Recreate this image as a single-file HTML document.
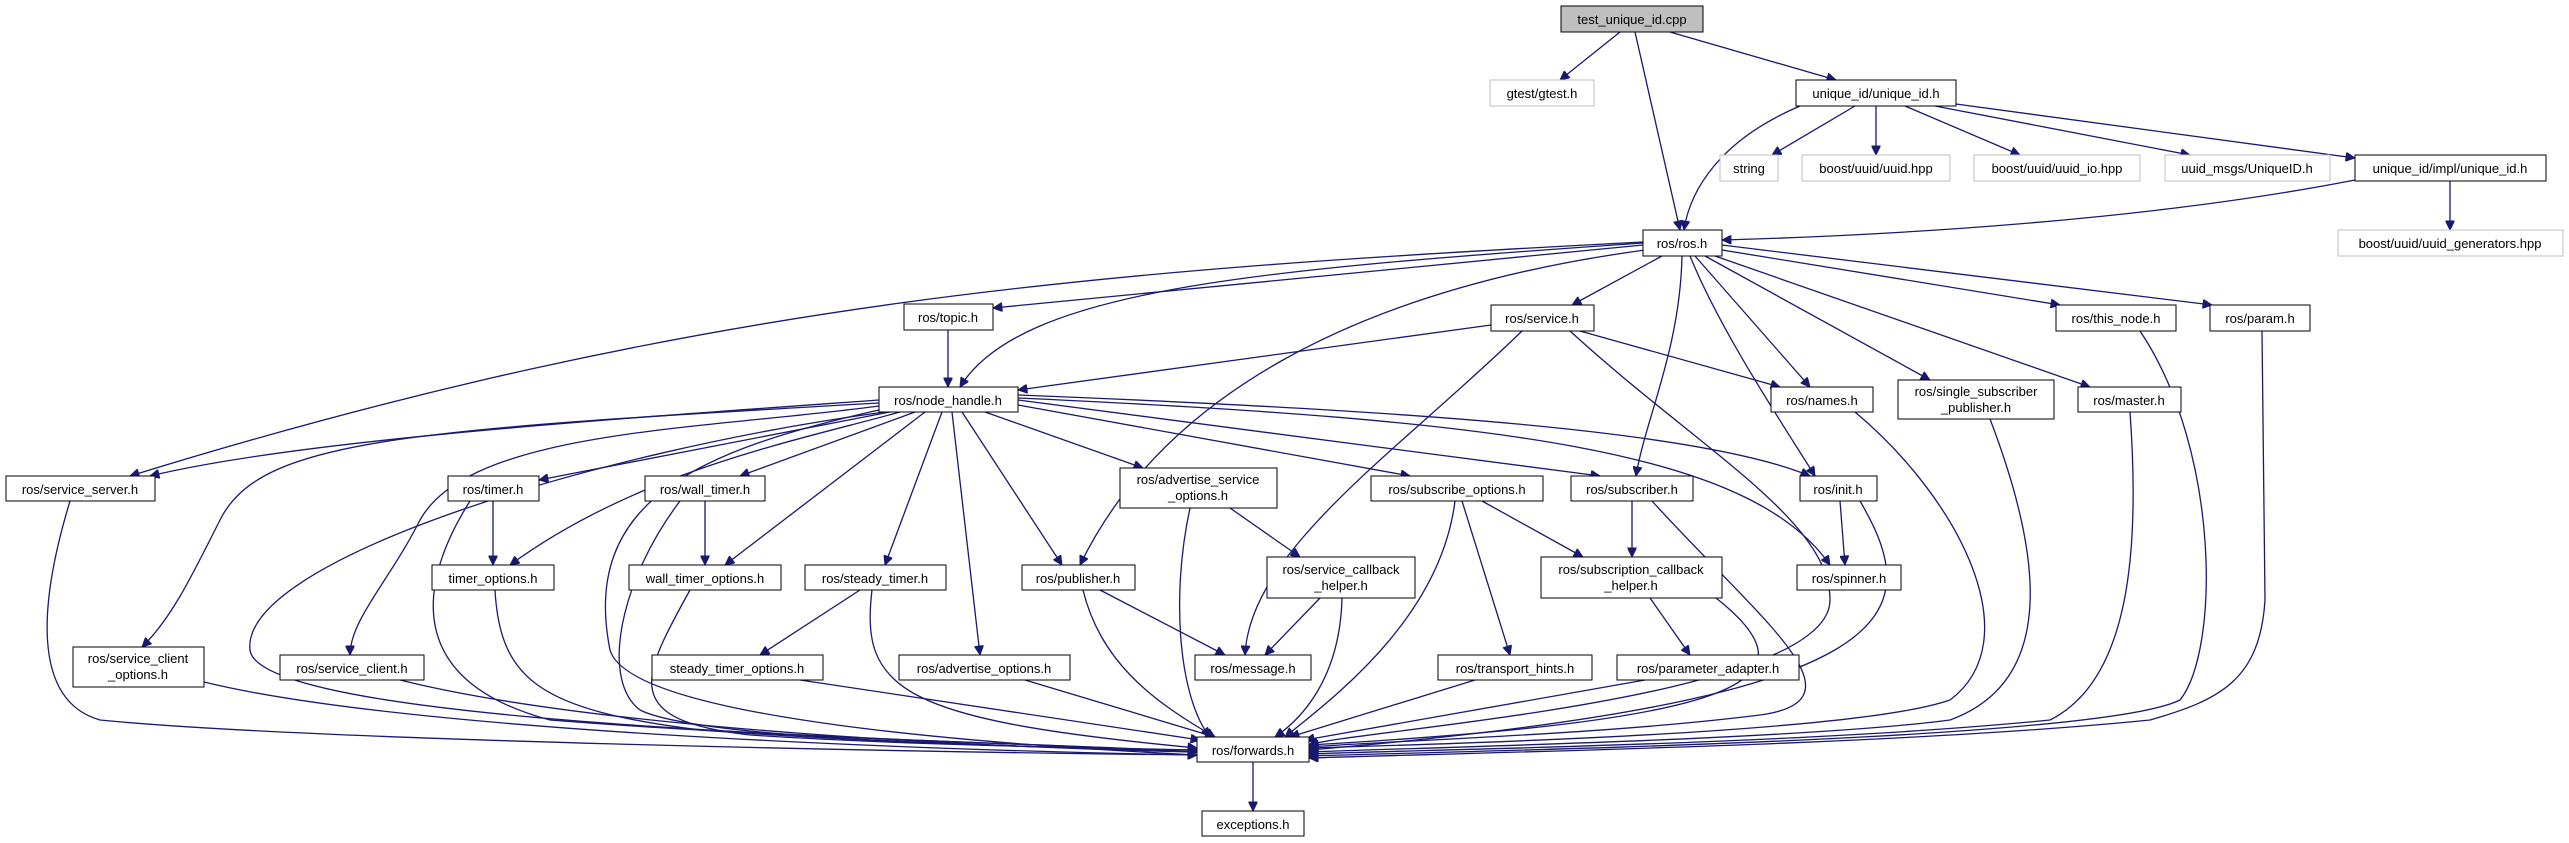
<!DOCTYPE html>
<html><head><meta charset="utf-8"><style>
html,body{margin:0;padding:0;background:#fff;}
svg{display:block;}
text{font-family:"Liberation Sans",sans-serif;font-size:13px;fill:#000;}
.e{fill:none;stroke:#191970;stroke-width:1.3;}
.n{fill:#fff;stroke:#000;stroke-width:1;}
.g{fill:#fff;stroke:#bfbfbf;stroke-width:1;}
</style></head><body>
<svg width="2569" height="843" viewBox="0 0 2569 843" xmlns="http://www.w3.org/2000/svg">
<defs><marker id="a" viewBox="0 0 10 10" refX="10" refY="5" markerWidth="11" markerHeight="9" markerUnits="userSpaceOnUse" orient="auto"><path d="M0,0 L10,5 L0,10 z" fill="#191970" stroke="#191970"/></marker></defs>
<g class="e" marker-end="url(#a)">
<path d="M1620 32 L1560 80"/>
<path d="M1670 32 L1836 80"/>
<path d="M1635 32 L1680 230"/>
<path d="M1800 106 C1720 140 1690 190 1684 230"/>
<path d="M1855 106 L1772 155"/>
<path d="M1876 106 L1876 155"/>
<path d="M1905 106 L2020 155"/>
<path d="M1935 106 L2190 155"/>
<path d="M1956 104 L2355 158"/>
<path d="M2355 180 C2150 220 1900 235 1722 240"/>
<path d="M2450 181 L2450 230"/>
<path d="M1643 245 L993 308"/>
<path d="M1643 243 C1250 270 1020 290 960 387"/>
<path d="M1643 242 C1100 270 700 300 130 476"/>
<path d="M1491 325 L1018 390"/>
<path d="M1662 256 L1572 305"/>
<path d="M1645 250 C1350 290 1160 400 1080 565"/>
<path d="M1682 256 C1680 350 1645 420 1636 476"/>
<path d="M1690 256 C1720 330 1780 420 1815 476"/>
<path d="M1695 256 L1810 387"/>
<path d="M1705 256 L1930 380"/>
<path d="M1715 256 L2090 387"/>
<path d="M1722 250 L2060 305"/>
<path d="M1722 245 L2212 305"/>
<path d="M1580 331 L1780 387"/>
<path d="M1522 331 C1400 450 1250 550 1245 655"/>
<path d="M1570 331 C1700 450 1830 520 1830 600 C1830 700 1350 730 1309 745"/>
<path d="M948 330 L948 387"/>
<path d="M879 400 C600 420 300 440 150 476"/>
<path d="M879 403 C400 430 260 440 220 520 C190 580 170 620 142 647"/>
<path d="M879 406 C700 430 470 430 420 520 C390 580 350 620 350 655"/>
<path d="M885 412 C600 450 240 560 250 650 C260 730 1000 740 1197 752"/>
<path d="M890 412 L539 480"/>
<path d="M900 412 C800 440 640 470 510 565"/>
<path d="M915 412 L740 476"/>
<path d="M925 412 L725 565"/>
<path d="M942 412 L885 565"/>
<path d="M952 412 L980 655"/>
<path d="M962 412 L1062 565"/>
<path d="M985 412 L1143 468"/>
<path d="M1018 405 L1410 476"/>
<path d="M1018 400 L1600 476"/>
<path d="M1018 395 C1400 410 1700 430 1810 476"/>
<path d="M1018 398 C1500 420 1750 450 1830 565"/>
<path d="M879 410 C700 450 580 500 610 650 C630 720 1000 745 1197 755"/>
<path d="M493 501 L493 565"/>
<path d="M470 501 C420 580 400 680 550 720 C800 740 1100 745 1197 752"/>
<path d="M705 501 L705 565"/>
<path d="M680 501 C620 580 600 680 640 710 C700 740 1000 745 1197 752"/>
<path d="M495 590 C500 680 540 710 700 730 C900 745 1100 748 1197 752"/>
<path d="M690 590 C640 680 620 720 750 735 C900 745 1100 748 1197 750"/>
<path d="M860 590 L760 655"/>
<path d="M872 590 C860 690 900 720 1197 748"/>
<path d="M800 680 L1200 740"/>
<path d="M1025 680 L1215 737"/>
<path d="M1100 590 L1225 655"/>
<path d="M1083 590 C1100 660 1150 700 1215 737"/>
<path d="M1230 508 L1300 557"/>
<path d="M1190 508 C1170 600 1180 700 1210 737"/>
<path d="M1320 598 L1265 655"/>
<path d="M1342 598 C1340 680 1300 720 1275 737"/>
<path d="M1482 501 L1583 557"/>
<path d="M1462 501 L1510 655"/>
<path d="M1455 501 C1440 620 1330 700 1285 737"/>
<path d="M1632 501 L1632 557"/>
<path d="M1652 501 C1760 620 1870 700 1760 715 C1600 735 1400 740 1309 747"/>
<path d="M1840 501 L1845 565"/>
<path d="M1860 501 C1930 620 1900 700 1309 750"/>
<path d="M1650 598 L1690 655"/>
<path d="M1716 598 C1820 680 1750 720 1309 745"/>
<path d="M1475 680 L1290 737"/>
<path d="M1645 680 L1305 740"/>
<path d="M70 501 C40 600 30 700 100 720 C300 740 900 752 1197 755"/>
<path d="M204 682 C400 730 900 750 1197 755"/>
<path d="M400 680 C600 730 1000 748 1197 752"/>
<path d="M1855 412 C1960 500 2030 640 1950 700 C1850 735 1400 745 1309 748"/>
<path d="M1990 419 C2040 550 2060 680 1950 720 C1800 740 1400 748 1309 752"/>
<path d="M2130 412 C2140 550 2130 680 2050 720 C1800 745 1400 750 1309 754"/>
<path d="M2140 331 C2220 450 2220 650 2180 700 C2100 740 1500 750 1309 756"/>
<path d="M2262 331 L2265 600 C2260 680 2220 700 2150 720 C1900 745 1500 752 1309 758"/>
<path d="M1253 762 L1253 811"/>
</g>
<g text-anchor="middle">
<rect x="1561" y="6" width="142" height="26" fill="#bfbfbf" stroke="#000"/><text x="1632" y="24">test_unique_id.cpp</text>
<rect class="g" x="1490" y="80" width="104" height="26"/><text x="1542" y="98">gtest/gtest.h</text>
<rect class="n" x="1796" y="80" width="160" height="26"/><text x="1876" y="98">unique_id/unique_id.h</text>
<rect class="g" x="1720" y="155" width="58" height="26"/><text x="1749" y="173">string</text>
<rect class="g" x="1802" y="155" width="148" height="26"/><text x="1876" y="173">boost/uuid/uuid.hpp</text>
<rect class="g" x="1974" y="155" width="166" height="26"/><text x="2057" y="173">boost/uuid/uuid_io.hpp</text>
<rect class="g" x="2165" y="155" width="165" height="26"/><text x="2247" y="173">uuid_msgs/UniqueID.h</text>
<rect class="n" x="2355" y="155" width="191" height="26"/><text x="2450" y="173">unique_id/impl/unique_id.h</text>
<rect class="n" x="1643" y="230" width="79" height="26"/><text x="1682" y="248">ros/ros.h</text>
<rect class="g" x="2338" y="230" width="225" height="26"/><text x="2450" y="248">boost/uuid/uuid_generators.hpp</text>
<rect class="n" x="1491" y="305" width="103" height="26"/><text x="1542" y="323">ros/service.h</text>
<rect class="n" x="2056" y="305" width="120" height="26"/><text x="2116" y="323">ros/this_node.h</text>
<rect class="n" x="2210" y="305" width="100" height="26"/><text x="2260" y="323">ros/param.h</text>
<rect class="n" x="904" y="304" width="89" height="26"/><text x="948" y="322">ros/topic.h</text>
<rect class="n" x="1771" y="387" width="102" height="25"/><text x="1822" y="405">ros/names.h</text>
<rect class="n" x="1898" y="380" width="156" height="39"/><text x="1976" y="396">ros/single_subscriber</text><text x="1976" y="412">_publisher.h</text>
<rect class="n" x="2078" y="387" width="103" height="25"/><text x="2129" y="405">ros/master.h</text>
<rect class="n" x="879" y="387" width="139" height="25"/><text x="948" y="405">ros/node_handle.h</text>
<rect class="n" x="6" y="476" width="149" height="25"/><text x="80" y="494">ros/service_server.h</text>
<rect class="n" x="448" y="476" width="91" height="25"/><text x="493" y="494">ros/timer.h</text>
<rect class="n" x="645" y="476" width="120" height="25"/><text x="705" y="494">ros/wall_timer.h</text>
<rect class="n" x="1120" y="468" width="157" height="40"/><text x="1198" y="484">ros/advertise_service</text><text x="1198" y="500">_options.h</text>
<rect class="n" x="1371" y="476" width="172" height="25"/><text x="1457" y="494">ros/subscribe_options.h</text>
<rect class="n" x="1571" y="476" width="122" height="25"/><text x="1632" y="494">ros/subscriber.h</text>
<rect class="n" x="1800" y="476" width="77" height="25"/><text x="1838" y="494">ros/init.h</text>
<rect class="n" x="432" y="565" width="122" height="25"/><text x="493" y="583">timer_options.h</text>
<rect class="n" x="629" y="565" width="152" height="25"/><text x="705" y="583">wall_timer_options.h</text>
<rect class="n" x="805" y="565" width="141" height="25"/><text x="875" y="583">ros/steady_timer.h</text>
<rect class="n" x="1022" y="565" width="113" height="25"/><text x="1078" y="583">ros/publisher.h</text>
<rect class="n" x="1267" y="557" width="148" height="41"/><text x="1341" y="574">ros/service_callback</text><text x="1341" y="590">_helper.h</text>
<rect class="n" x="1541" y="557" width="181" height="41"/><text x="1631" y="574">ros/subscription_callback</text><text x="1631" y="590">_helper.h</text>
<rect class="n" x="1797" y="565" width="104" height="25"/><text x="1849" y="583">ros/spinner.h</text>
<rect class="n" x="73" y="647" width="131" height="40"/><text x="138" y="663">ros/service_client</text><text x="138" y="679">_options.h</text>
<rect class="n" x="280" y="655" width="144" height="25"/><text x="352" y="673">ros/service_client.h</text>
<rect class="n" x="652" y="655" width="171" height="25"/><text x="737" y="673">steady_timer_options.h</text>
<rect class="n" x="899" y="655" width="171" height="25"/><text x="984" y="673">ros/advertise_options.h</text>
<rect class="n" x="1195" y="655" width="116" height="25"/><text x="1253" y="673">ros/message.h</text>
<rect class="n" x="1438" y="655" width="154" height="25"/><text x="1515" y="673">ros/transport_hints.h</text>
<rect class="n" x="1617" y="655" width="182" height="25"/><text x="1708" y="673">ros/parameter_adapter.h</text>
<rect class="n" x="1197" y="737" width="112" height="25"/><text x="1253" y="755">ros/forwards.h</text>
<rect class="n" x="1202" y="811" width="102" height="25"/><text x="1253" y="829">exceptions.h</text>
</g>
</svg>
</body></html>
